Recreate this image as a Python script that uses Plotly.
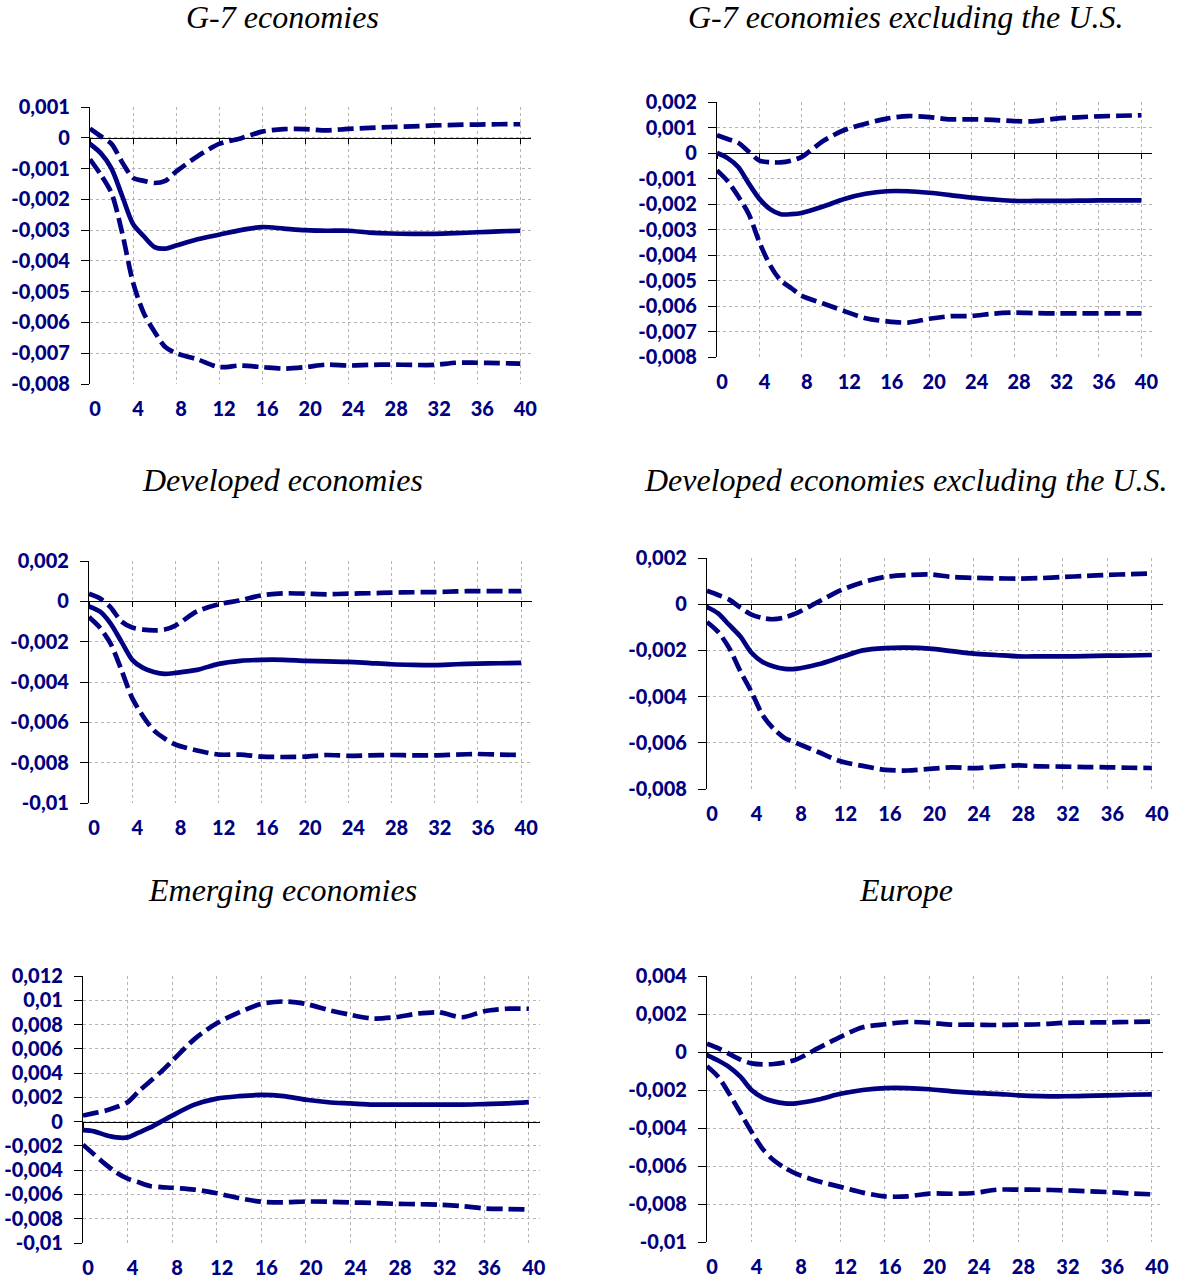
import plotly.graph_objects as go

W, H = 1177, 1281
NAVY = "#000080"

# Quarters after the shock
quarters = [0, 1, 2, 3, 4, 5, 6, 7, 8, 10, 12, 14, 16, 18, 20, 22, 24, 26, 28, 30, 32, 34, 36, 38, 40]

# G-7 economies
g7_mid = [-0.0002, -0.0005, -0.0010, -0.0019, -0.0028, -0.0032, -0.00355, -0.0036, -0.0035, -0.0033, -0.00315,
          -0.0030, -0.0029, -0.00295, -0.0030, -0.00302, -0.00302, -0.00308, -0.00311, -0.00312, -0.00312,
          -0.0031, -0.00307, -0.00304, -0.00302]
g7_up = [0.0003, 0.00005, -0.0002, -0.0008, -0.0013, -0.0014, -0.00147, -0.0014, -0.0011, -0.0006, -0.0002,
         -0.00002, 0.0002, 0.00028, 0.00028, 0.00024, 0.00029, 0.00032, 0.00035, 0.00037, 0.0004, 0.00042,
         0.00043, 0.00044, 0.00044]
g7_lo = [-0.0007, -0.0012, -0.0018, -0.0031, -0.0047, -0.0057, -0.0063, -0.0068, -0.0070, -0.0072, -0.00745,
         -0.0074, -0.00745, -0.0075, -0.00745, -0.00737, -0.0074, -0.00738, -0.00737, -0.00738, -0.00738,
         -0.00731, -0.00731, -0.00732, -0.00734]

# G-7 economies excluding the U.S.
g7x_mid = [0.0, -0.0002, -0.00055, -0.0012, -0.0018, -0.0022, -0.0024, -0.0024, -0.00235, -0.0021, -0.0018,
           -0.0016, -0.0015, -0.0015, -0.00156, -0.00165, -0.00175, -0.00182, -0.00188, -0.00188, -0.00188,
           -0.00187, -0.00186, -0.00186, -0.00186]
g7x_up = [0.0007, 0.00055, 0.0004, 0.00005, -0.0003, -0.00036, -0.00037, -0.0003, -0.00015, 0.00047, 0.0009,
          0.00115, 0.00135, 0.00145, 0.00141, 0.00132, 0.00132, 0.0013, 0.00125, 0.00125, 0.00135, 0.0014,
          0.00144, 0.00146, 0.00148]
g7x_lo = [-0.00068, -0.0011, -0.0017, -0.0024, -0.0035, -0.0044, -0.0050, -0.0053, -0.0056, -0.0059, -0.0062,
          -0.00648, -0.0066, -0.00665, -0.0065, -0.0064, -0.00639, -0.0063, -0.00626, -0.00628, -0.00629,
          -0.00629, -0.00629, -0.00629, -0.00629]

# Developed economies
dev_mid = [-0.00025, -0.0005, -0.0011, -0.0020, -0.0029, -0.0033, -0.0035, -0.0036, -0.00355, -0.0034, -0.0031,
           -0.00295, -0.0029, -0.0029, -0.00295, -0.00298, -0.0030, -0.00306, -0.00312, -0.00315, -0.00316,
           -0.00312, -0.00309, -0.00307, -0.00305]
dev_up = [0.00038, 0.00015, -0.0003, -0.0010, -0.0013, -0.0014, -0.00144, -0.0014, -0.0012, -0.0005, -0.00015,
          0.00005, 0.0003, 0.0004, 0.00038, 0.00035, 0.00038, 0.0004, 0.00043, 0.00045, 0.00046, 0.00049,
          0.00051, 0.00051, 0.00051]
dev_lo = [-0.00078, -0.0013, -0.0021, -0.0034, -0.0048, -0.0057, -0.0064, -0.0068, -0.0071, -0.0074, -0.0076,
          -0.0076, -0.0077, -0.00772, -0.0077, -0.00762, -0.00766, -0.00764, -0.00762, -0.00764, -0.00764,
          -0.0076, -0.00757, -0.0076, -0.00762]

# Developed economies excluding the U.S.
devx_mid = [-0.00012, -0.0004, -0.0009, -0.0014, -0.0021, -0.0025, -0.0027, -0.0028, -0.0028, -0.0026, -0.0023,
            -0.0020, -0.0019, -0.00188, -0.00192, -0.00203, -0.00214, -0.0022, -0.00226, -0.00226, -0.00226,
            -0.00225, -0.00223, -0.00222, -0.0022]
devx_up = [0.00058, 0.0004, 0.0002, -0.00015, -0.00045, -0.0006, -0.00065, -0.00057, -0.0004, 0.0001, 0.0006,
           0.00095, 0.00118, 0.00126, 0.00129, 0.00118, 0.00114, 0.00112, 0.00111, 0.00113, 0.00118, 0.00122,
           0.00127, 0.0013, 0.00133]
devx_lo = [-0.00077, -0.0012, -0.0019, -0.0029, -0.0038, -0.0048, -0.0054, -0.0058, -0.0060, -0.0064, -0.0068,
           -0.0070, -0.00717, -0.0072, -0.00713, -0.00706, -0.0071, -0.00703, -0.00698, -0.00702, -0.00703,
           -0.00705, -0.00706, -0.00708, -0.00709]

# Emerging economies
em_mid = [-0.0007, -0.0008, -0.0011, -0.0013, -0.0013, -0.0009, -0.0005, 0.0, 0.0005, 0.0014, 0.0019,
          0.0021, 0.0022, 0.0021, 0.0018, 0.0016, 0.0015, 0.0014, 0.0014, 0.0014, 0.0014, 0.0014,
          0.00145, 0.0015, 0.0016]
em_up = [0.0005, 0.0007, 0.0009, 0.0012, 0.0016, 0.0025, 0.0033, 0.0041, 0.0050, 0.0068, 0.0081,
         0.0090, 0.0097, 0.0099, 0.0097, 0.0092, 0.0088, 0.0085, 0.0086, 0.0089, 0.0090, 0.0086,
         0.0091, 0.0093, 0.0093]
em_lo = [-0.0019, -0.0027, -0.0035, -0.0042, -0.0047, -0.0050, -0.0053, -0.0054, -0.00545, -0.0056, -0.0059,
         -0.0063, -0.0066, -0.00665, -0.00658, -0.0066, -0.00666, -0.0067, -0.00677, -0.0068, -0.00685,
         -0.00696, -0.00715, -0.0072, -0.00724]

# Europe
eu_mid = [-0.00017, -0.00045, -0.0008, -0.0013, -0.0020, -0.0024, -0.0026, -0.0027, -0.0027, -0.0025, -0.0022,
          -0.0020, -0.0019, -0.0019, -0.00196, -0.00207, -0.00215, -0.0022, -0.00228, -0.00232, -0.00233,
          -0.00231, -0.00228, -0.00225, -0.00223]
eu_up = [0.00044, 0.0002, -0.0001, -0.0004, -0.0006, -0.00065, -0.00063, -0.00055, -0.0004, 0.0002, 0.0008,
         0.0013, 0.00146, 0.00158, 0.00154, 0.00144, 0.00144, 0.00142, 0.00144, 0.00146, 0.00153, 0.00155,
         0.00156, 0.00158, 0.0016]
eu_lo = [-0.00075, -0.0013, -0.0022, -0.0032, -0.0042, -0.0051, -0.0057, -0.0061, -0.0064, -0.0068, -0.0071,
         -0.0074, -0.0076, -0.0076, -0.00745, -0.00746, -0.00742, -0.00725, -0.00724, -0.00725, -0.00728,
         -0.00732, -0.00737, -0.00744, -0.00749]

titles = [
    "G-7 economies",
    "G-7 economies excluding the U.S.",
    "Developed economies",
    "Developed economies excluding the U.S.",
    "Emerging economies",
    "Europe",
]
series = [
    (g7_mid, g7_up, g7_lo),
    (g7x_mid, g7x_up, g7x_lo),
    (dev_mid, dev_up, dev_lo),
    (devx_mid, devx_up, devx_lo),
    (em_mid, em_up, em_lo),
    (eu_mid, eu_up, eu_lo),
]
y_ranges = [(-0.008, 0.001), (-0.008, 0.002), (-0.01, 0.002), (-0.008, 0.002), (-0.01, 0.012), (-0.01, 0.004)]
y_steps = [0.001, 0.001, 0.002, 0.002, 0.002, 0.002]
x_ticks = list(range(0, 41, 4))

# Plot-area boxes in pixels: left, right, top, bottom
boxes = [
    (90, 531, 107, 384),
    (717, 1152, 102, 357),
    (89, 532, 561, 803),
    (707, 1163, 558, 789),
    (83, 540, 976, 1243),
    (707, 1163, 976, 1242),
]
# Title centres in pixels
title_pos = [(282, 17), (905, 17), (282, 480), (905, 480), (282, 890), (906, 890)]


def fmt(v):
    if abs(v) < 1e-12:
        return "0"
    s = f"{v:.3f}".rstrip("0").rstrip(".")
    return s.replace(".", ",")


tick_font = dict(family="Lato", size=20, color=NAVY, weight=900)
grid = dict(showgrid=True, gridcolor="#b4b4b4", griddash="dot", gridwidth=1)
fig = go.Figure()
layout = dict(
    width=W, height=H, margin=dict(l=0, r=0, t=0, b=0, autoexpand=False),
    paper_bgcolor="white", plot_bgcolor="white", showlegend=False,
    annotations=[],
)

for i, (title, (mid, up, lo), (y0, y1), step, box, tpos) in enumerate(
        zip(titles, series, y_ranges, y_steps, boxes, title_pos)):
    n = i + 1
    xa, ya = f"x{n}", f"y{n}"
    zx = f"x{n + 6}"
    l, r, t, b = box
    dx = [l / W, r / W]
    dy = [1 - b / H, 1 - t / H]

    nt = int(round((y1 - y0) / step))
    yvals = [round(y0 + k * step, 4) for k in range(nt + 1)]
    eps = 1e-9

    layout[f"xaxis{n}"] = dict(
        domain=dx, anchor=ya, range=[0, 41], tickvals=x_ticks, ticktext=[str(v) for v in x_ticks],
        showline=False, ticks="", zeroline=False, tickfont=tick_font, ticklabelstandoff=11,
        ticklabelshift=5, automargin=False, **grid,
    )
    layout[f"yaxis{n}"] = dict(
        domain=dy, anchor=xa, range=[y0 - eps, y1 + eps], tickvals=yvals, ticktext=[fmt(v) for v in yvals],
        showline=True, linecolor="black", linewidth=1.3, ticks="outside", ticklen=8, tickcolor="black",
        tickwidth=1, zeroline=False, tickfont=tick_font, ticklabelstandoff=7, automargin=False, **grid,
    )
    # Horizontal axis line through zero with its tick marks
    zero_pos = dy[0] + (0 - y0) / (y1 - y0) * (dy[1] - dy[0])
    layout[f"xaxis{n + 6}"] = dict(
        overlaying=xa, anchor="free", position=zero_pos, side="bottom", range=[0, 41],
        tickvals=x_ticks, showticklabels=False, showline=True, linecolor="black", linewidth=1.3,
        ticks="outside", ticklen=5, tickcolor="black", tickwidth=1, showgrid=False, zeroline=False,
        layer="below traces", automargin=False,
    )
    fig.add_trace(go.Scatter(x=[], y=[], xaxis=zx, yaxis=ya, hoverinfo="skip"))

    for vals, dash in ((up, "16px,6px"), (lo, "16px,6px"), (mid, "solid")):
        fig.add_trace(go.Scatter(
            x=quarters, y=vals, xaxis=xa, yaxis=ya, mode="lines",
            line=dict(color=NAVY, width=4.7, dash=dash, shape="spline", smoothing=0.8),
            hoverinfo="skip",
        ))

    layout["annotations"].append(dict(
        text=title, x=tpos[0] / W, y=1 - tpos[1] / H, xref="paper", yref="paper",
        xanchor="center", yanchor="middle", showarrow=False,
        font=dict(family="Liberation Serif", size=32, color="black", style="italic"),
    ))

fig.update_layout(**layout)
fig.write_html("out.html")
